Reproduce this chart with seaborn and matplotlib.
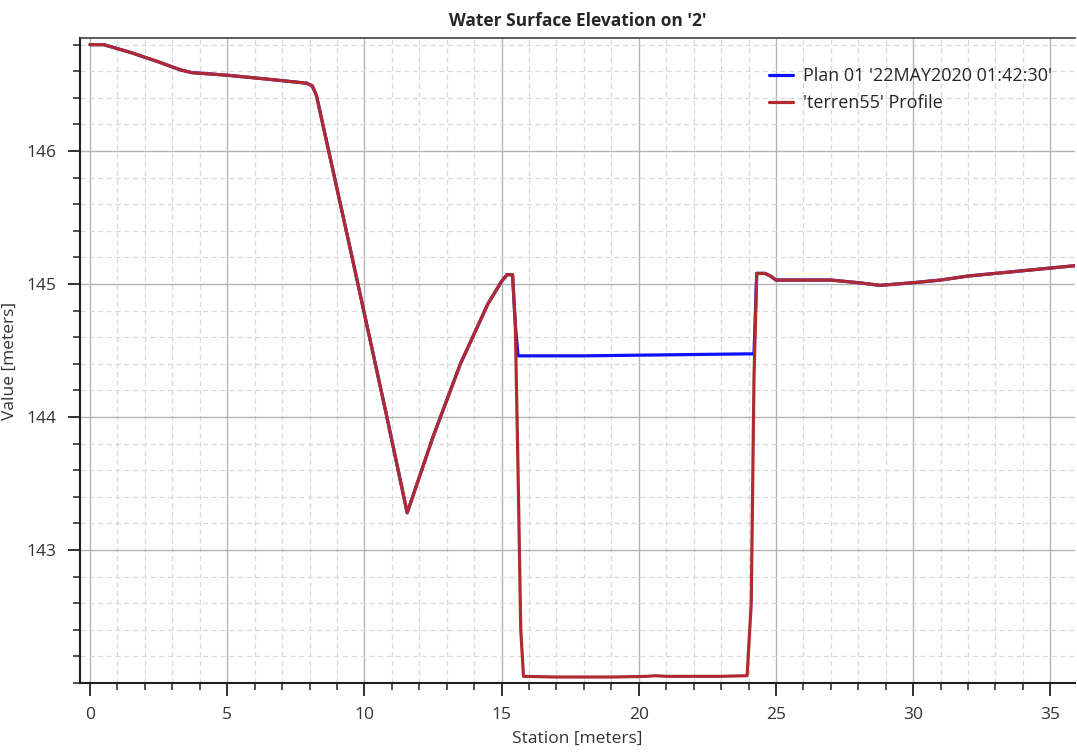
import matplotlib
matplotlib.use("Agg")
import matplotlib.pyplot as plt
import seaborn as sns
import pandas as pd
from matplotlib.ticker import MultipleLocator, FixedLocator

# Terrain profile ('terren55' Profile)
terrain_x = [0.0, 0.5, 1.5, 2.5, 3.3, 3.7, 5.0, 6.5, 7.9, 8.1, 8.25, 8.4,
             9.5, 10.8, 11.56, 12.5, 13.5, 14.5, 15.0, 15.2, 15.4, 15.5,
             15.6, 15.7, 15.8, 17.0, 19.0, 20.3, 20.6, 21.0, 22.0, 23.0,
             23.95, 24.1, 24.2, 24.3, 24.6, 24.8, 25.0, 26.0, 27.0, 28.0,
             28.8, 30.0, 31.0, 32.0, 33.0, 34.0, 35.0, 36.0]
terrain_y = [146.80, 146.80, 146.74, 146.67, 146.61, 146.59, 146.57, 146.54,
             146.51, 146.49, 146.42, 146.28, 145.25, 144.02, 143.28, 143.85,
             144.40, 144.85, 145.02, 145.07, 145.07, 144.70, 143.60, 142.40,
             142.05, 142.045, 142.045, 142.05, 142.055, 142.05, 142.05, 142.05,
             142.055, 142.60, 144.30, 145.08, 145.08, 145.06, 145.03, 145.03,
             145.03, 145.01, 144.99, 145.01, 145.03, 145.06, 145.08, 145.10,
             145.12, 145.14]

# Water surface (Plan 01 '22MAY2020 01:42:30')
wse_x = [0.0, 0.5, 1.5, 2.5, 3.3, 3.7, 5.0, 6.5, 7.9, 8.1, 8.25, 8.4,
         9.5, 10.8, 11.56, 12.5, 13.5, 14.5, 15.0, 15.2, 15.4, 15.5,
         15.6, 15.85, 18.0, 20.0, 22.0, 24.0, 24.2, 24.3, 24.6, 24.8, 25.0,
         26.0, 27.0, 28.0, 28.8, 30.0, 31.0, 32.0, 33.0, 34.0, 35.0, 36.0]
wse_y = [146.80, 146.80, 146.74, 146.67, 146.61, 146.59, 146.57, 146.54,
         146.51, 146.49, 146.42, 146.28, 145.25, 144.02, 143.28, 143.85,
         144.40, 144.85, 145.02, 145.07, 145.07, 144.70, 144.46, 144.46,
         144.46, 144.465, 144.47, 144.475, 144.475, 145.08, 145.08, 145.06,
         145.03, 145.03, 145.03, 145.01, 144.99, 145.01, 145.03, 145.06,
         145.08, 145.10, 145.12, 145.14]

y_major_ticks = [143, 144, 145, 146]

wse_label = "Plan 01 '22MAY2020 01:42:30'"
terrain_label = "'terren55' Profile"

sns.set_style("white")
plt.rcParams['font.family'] = ['Open Sans', 'DejaVu Sans']

fig = plt.figure(figsize=(10.77, 7.55), dpi=100)
ax = fig.add_axes([80/1077, 1-683/755, (1075-80)/1077, (683-38)/755])

df_w = pd.DataFrame({"x": wse_x, "y": wse_y})
df_t = pd.DataFrame({"x": terrain_x, "y": terrain_y})
sns.lineplot(data=df_w, x="x", y="y", ax=ax, sort=False, color="#1010ff",
             linewidth=2.3, label=wse_label, zorder=3)
sns.lineplot(data=df_t, x="x", y="y", ax=ax, sort=False, color="#b02a30",
             linewidth=2.3, label=terrain_label, zorder=4)

ax.set_xlim(-0.365, 35.9)
ax.set_ylim(142.0, 146.85)
ax.xaxis.set_major_locator(MultipleLocator(5))
ax.xaxis.set_minor_locator(MultipleLocator(1))
ax.yaxis.set_major_locator(FixedLocator(y_major_ticks))
ax.yaxis.set_minor_locator(MultipleLocator(0.2))

ax.grid(which="major", color="#b4b4b4", linewidth=1.0, linestyle="-")
ax.grid(which="minor", color="#d9d9d9", linewidth=0.9, linestyle=(0, (4, 3)))
ax.set_axisbelow(True)

ax.tick_params(which="major", direction="out", length=9, width=1.3,
               color="#202020", labelsize=12.5, labelcolor="#333333", pad=8,
               bottom=True, left=True)
ax.tick_params(which="minor", direction="out", length=5, width=1.1,
               color="#202020", bottom=True, left=True)

for side in ["left", "bottom"]:
    ax.spines[side].set_color("#202020")
    ax.spines[side].set_linewidth(1.5)
ax.spines["top"].set_color("#404040")
ax.spines["top"].set_linewidth(1.2)
ax.spines["right"].set_visible(False)

ax.set_xlabel("Station [meters]", fontsize=12.5, color="#333333", labelpad=6)
ax.set_ylabel("Value [meters]", fontsize=12.5, color="#333333")
ax.yaxis.set_label_coords(-0.062, 0.5)
ax.set_title("Water Surface Elevation on '2'", fontsize=12.5, fontweight="bold",
             pad=9)

leg = ax.legend(loc="upper left", bbox_to_anchor=(0.6855, 0.966), frameon=False,
                fontsize=13, handlelength=1.3, handletextpad=0.55,
                labelspacing=0.5, borderaxespad=0)

fig.savefig("out.png", dpi=100)
